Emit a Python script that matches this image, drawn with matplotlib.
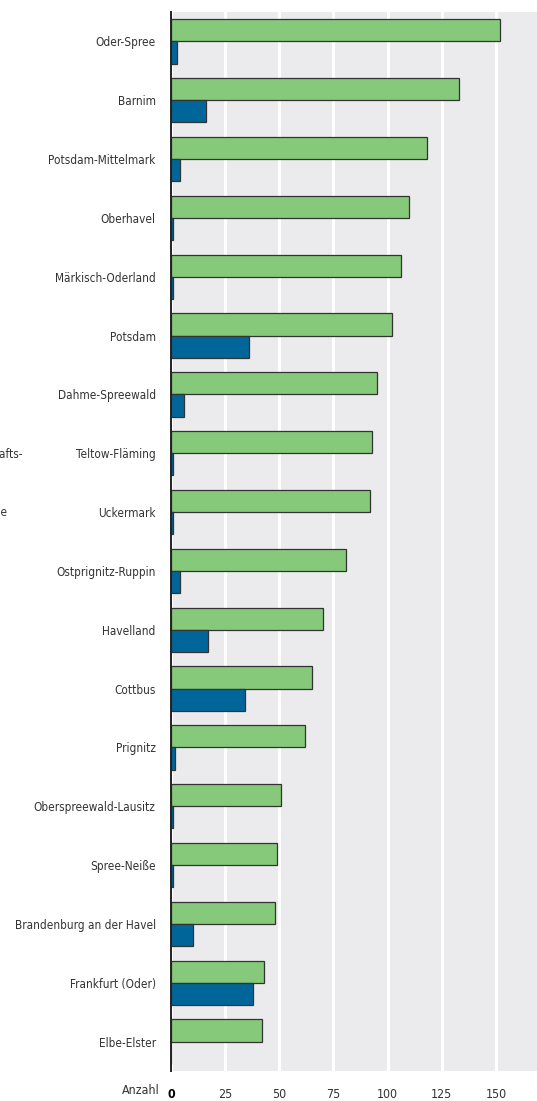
import os
import numpy as np
import matplotlib.pyplot as plt
from matplotlib import font_manager

# Landkreise / kreisfreie Staedte, top to bottom
regions = ['Oder-Spree', 'Barnim', 'Potsdam-Mittelmark', 'Oberhavel',
           'Märkisch-Oderland', 'Potsdam', 'Dahme-Spreewald', 'Teltow-Fläming',
           'Uckermark', 'Ostprignitz-Ruppin', 'Havelland', 'Cottbus', 'Prignitz',
           'Oberspreewald-Lausitz', 'Spree-Neiße', 'Brandenburg an der Havel',
           'Frankfurt (Oder)', 'Elbe-Elster']
green_vals = [152, 133, 118, 110, 106, 102, 95, 93, 92, 81, 70, 65, 62, 51, 49, 48, 43, 42]
blue_vals = [3, 16, 4, 1, 1, 36, 6, 1, 1, 4, 17, 34, 2, 1, 1, 10, 38, 0]
xticks = [0, 25, 50, 75, 100, 125, 150]

# look for a narrow / condensed face (reference uses a condensed font)
all_files = sorted(set(font_manager.findSystemFonts()) |
                   {f.fname for f in font_manager.fontManager.ttflist})


def find_font(keys):
    for key in keys:
        for f in all_files:
            if os.path.basename(f).lower() == key:
                return f
    return None


font_path = find_font(['liberationsansnarrow-regular.ttf', 'dejavusanscondensed.ttf'])
bold_path = find_font(['liberationsansnarrow-bold.ttf', 'dejavusanscondensed-bold.ttf'])

fig = plt.figure(figsize=(5.37, 11.01), dpi=100)


def fp(size, bold=False):
    path = bold_path if bold else font_path
    if path:
        return font_manager.FontProperties(fname=path, size=size)
    return font_manager.FontProperties(family='DejaVu Sans', stretch='condensed',
                                       weight='bold' if bold else 'normal', size=size)


# pick a size so the longest label is about as wide as in the reference (141 px)
renderer = fig.canvas.get_renderer()
probe = fig.text(0, 0, 'Brandenburg an der Havel', fontproperties=fp(10))
w = probe.get_window_extent(renderer).width
probe.remove()
fs = 10 * 141 / w

ax = fig.add_axes([171 / 537, 1 - 1071 / 1101, 1 - 171 / 537, (1071 - 12) / 1101])
ax.set_facecolor('#EBEBED')

y = np.arange(len(regions))
h = 0.378
ax.barh(y - h / 2, green_vals, height=h, color='#86C97A', edgecolor='#333333',
        linewidth=0.9, zorder=3)
ax.barh(y + h / 2, blue_vals, height=h, color='#006699', edgecolor='#333333',
        linewidth=0.9, zorder=3)

ax.set_ylim(len(regions) - 0.5, -0.5)
ax.set_xlim(0, 169)

ax.set_yticks(y)
ax.set_yticklabels(regions, fontproperties=fp(fs), color='#333333')
ax.set_xticks(xticks)
ax.set_xticklabels([str(t) for t in xticks], fontproperties=fp(fs * 1.05), color='#333333')
ax.get_xticklabels()[0].set_fontproperties(fp(fs * 1.05, bold=True))
ax.get_xticklabels()[0].set_color('#000000')
ax.tick_params(axis='y', length=0, pad=11)
ax.tick_params(axis='x', length=0, pad=12)

ax.xaxis.grid(True, color='white', linewidth=2.2, zorder=1)
ax.set_axisbelow(True)
for s in ['top', 'right', 'bottom']:
    ax.spines[s].set_visible(False)
ax.spines['left'].set_color('#222222')
ax.spines['left'].set_linewidth(1.4)
ax.spines['left'].set_zorder(4)

fig.text(160 / 537, 1 - 1091 / 1101, 'Anzahl', ha='right', va='center',
         fontproperties=fp(fs * 1.05), color='#333333')

# cut-off legend text at the left edge
fig.text(23 / 537, 1 - 454 / 1101, 'Wirtschafts-', ha='right', va='center',
         fontproperties=fp(fs), color='#333333')
fig.text(7 / 537, 1 - 512 / 1101, 'Branche', ha='right', va='center',
         fontproperties=fp(fs), color='#333333')

fig.savefig('out.png', dpi=100)
